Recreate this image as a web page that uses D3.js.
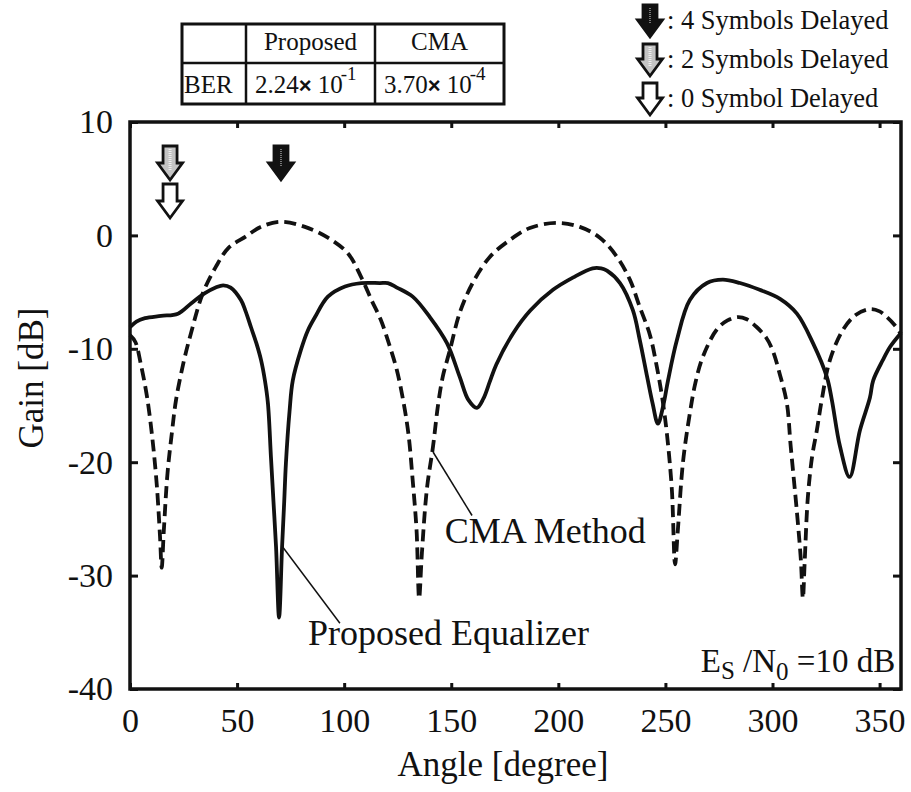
<!DOCTYPE html>
<html><head>
<meta charset="utf-8">
<script src="https://d3js.org/d3.v7.min.js"></script>
<style>
  body { margin: 0; background: #fff; }
  svg text { font-family: "Liberation Serif", "Times New Roman", serif; fill: #111; }
  .tick line { stroke: #111; stroke-width: 3; }
</style>
</head>
<body>
<svg id="chart" width="911" height="792"></svg>
<script>

// Gain pattern of the proposed equalizer (solid), [angle deg, gain dB]
const proposedPattern = [
  [0,-8.1],[3,-7.6],[7,-7.3],[14.5,-7.1],[22.4,-6.9],[28.5,-6.0],[35,-5.1],[40,-4.6],
  [43.5,-4.4],[47,-4.6],[51.8,-5.7],[54,-6.7],[56.5,-8.1],[59,-9.5],[61.2,-11],[63,-12.8],
  [64.4,-14.8],[65.8,-19.5],[67,-23.5],[68.2,-27.5],[69.6,-33.7],[71,-27.5],[72,-23.5],
  [72.8,-20.1],[74.5,-15.5],[76,-12.8],[79.8,-10.1],[83,-8.4],[86.4,-7.2],[92.4,-5.4],
  [100.4,-4.5],[108,-4.2],[116.7,-4.2],[120.4,-4.2],[124.6,-4.6],[132,-5.4],[140,-7.2],
  [148,-9.5],[154,-12.5],[158,-14.5],[162,-15.2],[165,-14.4],[168,-12.9],[171,-11.4],
  [179,-8.6],[187,-6.6],[197.5,-4.8],[207,-3.7],[216,-2.9],[220,-2.9],[222.7,-3.1],
  [228.8,-4.2],[234.8,-6.6],[238,-9.2],[241.5,-12.5],[244,-14.8],[246.5,-16.6],[249,-15],
  [251.2,-12.8],[255.4,-9.2],[261.4,-5.7],[269.4,-4.2],[276.8,-3.9],[284.8,-4.2],[294,-4.8],
  [303.5,-5.6],[311.4,-6.9],[318.9,-9.5],[325.4,-12.5],[327.7,-14.5],[331.5,-18.6],
  [336,-21.3],[340.8,-17.2],[345.5,-14.3],[347,-12.8],[351.5,-11],[355,-9.8],[360,-8.6]
];

// Gain pattern of the CMA method (dashed)
const cmaPattern = [
  [0,-8.8],[2.5,-9.4],[5,-11.3],[8,-14.3],[10.5,-18],[12.5,-22],[14,-26.5],[14.8,-29.3],
  [15.8,-26],[17.5,-21],[19.5,-17.5],[21.5,-14.5],[25,-11.2],[28.5,-8.6],[34,-5.1],[40,-2.8],
  [46,-1.1],[54,-0.1],[61,0.75],[70.5,1.2],[81.7,0.75],[92.4,-0.2],[101.8,-1.6],[108,-3.7],
  [113,-5.8],[117,-7.4],[121,-9.6],[124.5,-11.8],[127.5,-14.5],[130,-17.5],[132,-21.6],
  [133.8,-26],[135,-32],[136.3,-28],[138.6,-22.4],[141.5,-18.6],[143.8,-15],[146,-12.5],
  [149.4,-10.1],[154,-6.8],[160,-4.2],[168,-1.9],[177.4,-0.4],[186.7,0.65],[199.3,1.1],
  [210,0.75],[219.4,-0.2],[227.4,-1.9],[233.4,-3.9],[238,-6.3],[242.8,-8.8],[246,-11.6],
  [248.5,-14.3],[250.7,-17.5],[253,-22.4],[254.5,-29],[255.8,-26],[258.2,-20],[261.4,-15.7],
  [264,-13],[267.5,-10.7],[274,-8.3],[279,-7.5],[284,-7.2],[288,-7.4],[292.7,-8.1],[297,-9],
  [300,-10.1],[303.5,-12.3],[306.7,-14.8],[308.5,-18.6],[311.4,-24.4],[313.2,-28.5],
  [314.2,-32],[315,-28.9],[316.5,-23.1],[318.5,-19.5],[320.7,-17.2],[323,-14.5],[326.8,-11],
  [333,-8.3],[339,-7.0],[345.5,-6.5],[350,-6.7],[353.4,-7.2],[357,-7.9],[360,-8.7]
];

const xTicks = [0, 50, 100, 150, 200, 250, 300, 350];
const yTicks = [10, 0, -10, -20, -30, -40];

// arrival angles of the signals, marked by arrows above the plot
const arrivals = [
  { angle: 18.7, delay: 2, row: 0 },
  { angle: 18.7, delay: 0, row: 1 },
  { angle: 70.5, delay: 4, row: 0 }
];
const legendDelays = [4, 2, 0];
const legendLabels = [": 4 Symbols Delayed", ": 2 Symbols Delayed", ": 0 Symbol Delayed"];

// BER table
const tableHeader = ["", "Proposed", "CMA"];
const berMantissa = ["2.24", "3.70"];
const berExponent = ["-1", "-4"];

const svg = d3.select("#chart");
const W = +svg.attr("width"), H = +svg.attr("height");
svg.append("rect").attr("width", W).attr("height", H).attr("fill", "#fff");

const x = d3.scaleLinear().domain([0, 360]).range([130, 901]);
const y = d3.scaleLinear().domain([-40, 10]).range([689, 122]);

// axes: ticks point inward, labels only bottom and left
const axG = svg.append("g");
axG.append("g").attr("transform", "translate(0," + y(-40) + ")")
  .call(d3.axisBottom(x).tickValues(xTicks).tickSize(-6).tickPadding(19).tickFormat(d => String(d)))
  .call(g => g.select(".domain").remove());
axG.append("g").attr("transform", "translate(0," + y(10) + ")")
  .call(d3.axisTop(x).tickValues(xTicks).tickSize(-6).tickFormat(""))
  .call(g => g.select(".domain").remove());
axG.append("g").attr("transform", "translate(" + x(0) + ",0)")
  .call(d3.axisLeft(y).tickValues(yTicks).tickSize(-8).tickPadding(17).tickFormat(d => String(d)))
  .call(g => g.select(".domain").remove());
axG.append("g").attr("transform", "translate(" + x(360) + ",0)")
  .call(d3.axisRight(y).tickValues(yTicks).tickSize(-8).tickFormat(""))
  .call(g => g.select(".domain").remove());
axG.selectAll(".tick text")
  .style("font-family", '"Liberation Serif", serif').style("font-size", "34px").attr("fill", "#111");

// curves
const line = d3.line().x(d => x(d[0])).y(d => y(d[1])).curve(d3.curveCatmullRom.alpha(0.5));
svg.append("path").datum(cmaPattern).attr("d", line)
  .attr("fill", "none").attr("stroke", "#111").attr("stroke-width", 3.8)
  .attr("stroke-dasharray", "12,6");
svg.append("path").datum(proposedPattern).attr("d", line)
  .attr("fill", "none").attr("stroke", "#111").attr("stroke-width", 3.8)
  .attr("stroke-linejoin", "round");

// frame
svg.append("rect").attr("x", x(0)).attr("y", y(10))
  .attr("width", x(360) - x(0)).attr("height", y(-40) - y(10))
  .attr("fill", "none").attr("stroke", "#111").attr("stroke-width", 3.5);

// block arrow
function arrowPath(cx, top, h, shaftW, headW, headH) {
  const s = shaftW / 2, hw = headW / 2, hy = top + h - headH;
  return `M${cx - s},${top}H${cx + s}V${hy}H${cx + hw}L${cx},${top + h}L${cx - hw},${hy}H${cx - s}Z`;
}
function drawArrow(g, cx, top, h, delay) {
  const fill = delay === 4 ? "#111" : delay === 2 ? "#c4c4c4" : "#fff";
  g.append("path").attr("d", arrowPath(cx, top, h, 14, 25, 17))
    .attr("fill", fill).attr("stroke", "#111").attr("stroke-width", 2.8)
    .attr("stroke-linejoin", "miter");
  if (delay === 4) {
    g.append("line").attr("x1", cx).attr("x2", cx).attr("y1", top + 3).attr("y2", top + h - 14)
      .attr("stroke", "#777").attr("stroke-width", 2).attr("stroke-dasharray", "1,1");
  }
  if (delay === 2) {
    g.append("line").attr("x1", cx).attr("x2", cx).attr("y1", top + 3).attr("y2", top + h - 10)
      .attr("stroke", "#eee").attr("stroke-width", 3).attr("stroke-dasharray", "1,1");
  }
}
const arrowG = svg.append("g");
arrivals.forEach(a => drawArrow(arrowG, x(a.angle), 146 + a.row * 38, 34, a.delay));

// legend
const legG = svg.append("g");
legendDelays.forEach((d, i) => {
  drawArrow(legG, 650, 5 + i * 39, 32, d);
  legG.append("text").attr("x", 667).attr("y", 29 + i * 39)
    .style("font-size", "26.5px").text(legendLabels[i]);
});

// BER table
const cols = [182, 246, 375, 504], rows = [24, 63, 104];
const tab = svg.append("g");
tab.append("rect").attr("x", cols[0]).attr("y", rows[0])
  .attr("width", cols[3] - cols[0]).attr("height", rows[2] - rows[0])
  .attr("fill", "#fff").attr("stroke", "#111").attr("stroke-width", 3);
[cols[1], cols[2]].forEach(c => tab.append("line").attr("x1", c).attr("x2", c)
  .attr("y1", rows[0]).attr("y2", rows[2]).attr("stroke", "#111").attr("stroke-width", 2.5));
tab.append("line").attr("x1", cols[0]).attr("x2", cols[3]).attr("y1", rows[1]).attr("y2", rows[1])
  .attr("stroke", "#111").attr("stroke-width", 2.5);
tableHeader.forEach((t, i) => {
  if (!t) return;
  tab.append("text").attr("x", (cols[i] + cols[i + 1]) / 2).attr("y", 50)
    .attr("text-anchor", "middle").style("font-size", "25px").text(t);
});
tab.append("text").attr("x", 184).attr("y", 93).style("font-size", "25px").text("BER");
berMantissa.forEach((m, i) => {
  const t = tab.append("text").attr("x", cols[i + 1] + 9).attr("y", 93).style("font-size", "25px");
  t.append("tspan").text(m);
  t.append("tspan").style("font-family", '"Liberation Sans", sans-serif').style("font-weight", "bold")
    .style("font-size", "22px").text("× ");
  t.append("tspan").text("10");
  t.append("tspan").attr("dx", -2).attr("dy", -13).style("font-size", "19px").text(berExponent[i]);
});

// annotations
const ann = svg.append("g");
ann.append("line").attr("x1", x(141.5)).attr("y1", y(-19.1)).attr("x2", x(159.7)).attr("y2", y(-24.7))
  .attr("stroke", "#111").attr("stroke-width", 1.5);
ann.append("text").attr("x", x(147)).attr("y", y(-27.1)).style("font-size", "36px").text("CMA Method");
ann.append("line").attr("x1", x(71.4)).attr("y1", y(-27.5)).attr("x2", x(98)).attr("y2", y(-34.2))
  .attr("stroke", "#111").attr("stroke-width", 1.5);
ann.append("text").attr("x", x(83.1)).attr("y", y(-36.1)).style("font-size", "36px").text("Proposed Equalizer");

const es = ann.append("text").attr("x", x(357.3)).attr("y", y(-38.5))
  .attr("text-anchor", "end").style("font-size", "33px");
es.append("tspan").text("E");
es.append("tspan").attr("dy", 7).style("font-size", "25px").text("S");
es.append("tspan").attr("dy", -7).text(" /N");
es.append("tspan").attr("dy", 8).style("font-size", "25px").text("0");
es.append("tspan").attr("dy", -8).text(" =10 dB");

// axis titles
svg.append("text").attr("x", 503).attr("y", 776).attr("text-anchor", "middle")
  .style("font-size", "35px").text("Angle [degree]");
svg.append("text").attr("transform", "translate(43,378) rotate(-90)").attr("text-anchor", "middle")
  .style("font-size", "35px").text("Gain [dB]");

</script>
</body></html>
